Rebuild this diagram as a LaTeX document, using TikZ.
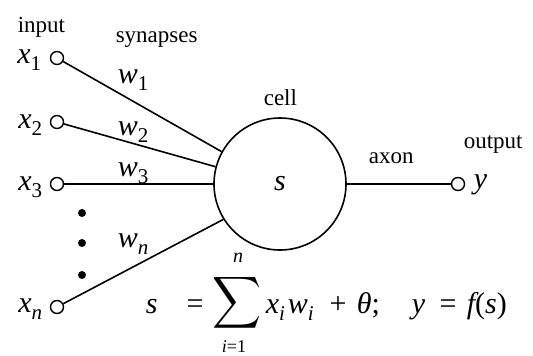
\documentclass[tikz,border=0pt]{standalone}
\usepackage{fontspec}
\setmainfont{Liberation Serif}
\usepackage{graphicx}
\newcommand{\lbl}{\fontsize{23}{26}\selectfont}
\newcommand{\mth}{\fontsize{30}{34}\selectfont\itshape}
\newcommand{\sbs}[1]{\raisebox{-7pt}{\fontsize{21}{22}\selectfont #1}}
\begin{document}
\begin{tikzpicture}[x=1pt,y=-1pt,line width=1.6pt,
  port/.style={circle,draw,minimum size=13pt,inner sep=0pt,line width=1.4pt},
  dotmark/.style={circle,fill,minimum size=8pt,inner sep=0pt},
  txt/.style={inner sep=0pt,font=\lbl,anchor=base west},
  var/.style={inner sep=0pt,font=\mth},
  op/.style={inner sep=0pt,font=\fontsize{30}{34}\selectfont,anchor=base}]
\useasboundingbox (0,0) rectangle (533,356);
% ports
\node[port] (i1) at (57,58) {};
\node[port] (i2) at (57,122) {};
\node[port] (i3) at (57,184) {};
\node[port] (in) at (57,307) {};
\node[circle,draw,minimum size=132pt,inner sep=0pt,font=\mth] (cell) at (280,184) {s};
\node[port] (o) at (458,184) {};
% connectors
\draw (i1) -- (cell.151);
\draw (i2) -- (cell.165);
\draw (i3) -- (cell.180);
\draw (in) -- (cell.212);
\draw (cell) -- (o);
% dots
\node[dotmark] (d1) at (82,213) {};
\node[dotmark] (d2) at (82,243) {};
\node[dotmark] (d3) at (82,275) {};
% input labels
\node[var,anchor=base east] (lx1) at (42,63) {x\sbs{\upshape 1}};
\node[var,anchor=base east] (lx2) at (43,128) {x\sbs{\upshape 2}};
\node[var,anchor=base east] (lx3) at (43,190) {x\sbs{\upshape 3}};
\node[var,anchor=base east] (lxn) at (43,312) {x\sbs{n}};
% weights
\node[var,anchor=base west] (w1) at (117,83) {w\sbs{\upshape 1}};
\node[var,anchor=base west] (w2) at (117,135) {w\sbs{\upshape 2}};
\node[var,anchor=base west] (w3) at (117,176) {w\sbs{\upshape 3}};
\node[var,anchor=base west] (wn) at (117,247) {w\sbs{n}};
% text labels
\node[txt] (tin) at (17,32) {input};
\node[txt] (tsyn) at (115,42) {synapses};
\node[txt] (tcell) at (263,105) {cell};
\node[txt] (tax) at (368,163) {axon};
\node[txt] (tout) at (463,148) {output};
\node[var,anchor=base west] (y) at (473,188) {y};
% formula
\node[var,anchor=base west] (fs) at (145,313) {s};
\node[op] (feq) at (195,313) {=};
\node[inner sep=0pt] (sum) at (237,303) {\resizebox*{49pt}{58pt}{$\displaystyle\sum$}};
\node[inner sep=0pt,anchor=base,font=\fontsize{20}{22}\selectfont\itshape] (sumn) at (238,262) {n};
\node[inner sep=0pt,anchor=base,font=\fontsize{18}{20}\selectfont\itshape] (sumi) at (234,352) {i\upshape =1};
\node[var,anchor=base west] (fx) at (265,313) {x\sbs{i}};
\node[var,anchor=base west] (fw) at (287,313) {w\sbs{i}};
\node[op] (fplus) at (338,313) {+};
\node[var,anchor=base west] (fth) at (356,313) {θ\upshape;};
\node[var,anchor=base west] (fy) at (411,313) {y};
\node[op] (feq2) at (448,313) {=};
\node[var,anchor=base west] (ff) at (466,313) {f\upshape (\itshape s\upshape )};
\end{tikzpicture}
\end{document}
